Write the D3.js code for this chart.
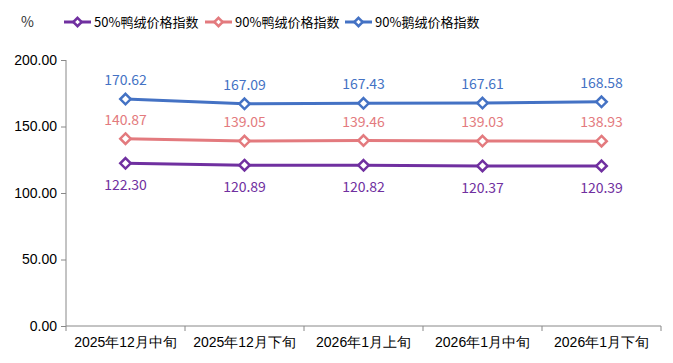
<!DOCTYPE html>
<html>
<head>
<meta charset="utf-8">
<script src="https://cdn.jsdelivr.net/npm/d3@7"></script>
<style>
  body { margin: 0; background: #fff; }
  svg { font-family: "Noto Sans CJK SC", "DejaVu Sans", sans-serif; }
</style>
</head>
<body>
<div id="chart"></div>
<script>
// categories and series
const periods = [ '2025年12月中旬', '2025年12月下旬', '2026年1月上旬', '2026年1月中旬', '2026年1月下旬' ];
const seriesNames = [ '50%鸭绒价格指数', '90%鸭绒价格指数', '90%鹅绒价格指数' ];
const duck50 = [ 122.30, 120.89, 120.82, 120.37, 120.39 ];
const duck90 = [ 140.87, 139.05, 139.46, 139.03, 138.93 ];
const goose90 = [ 170.62, 167.09, 167.43, 167.61, 168.58 ];
const yTicks = [ 0, 50, 100, 150, 200 ];

//_____ LAYOUT _____
const width = 673;
const height = 363;
const margin = { top: 60, right: 12, bottom: 37, left: 66 };
const colors = [ '#7030a0', '#e37a7e', '#4472c4' ];
const labelPos = [ 'below', 'above', 'above' ];
const allSeries = [ duck50, duck90, goose90 ];

const svg = d3.select( '#chart' ).append( 'svg' )
  .attr( 'width', width )
  .attr( 'height', height );

const x = d3.scaleBand()
  .domain( periods )
  .range( [ margin.left, width - margin.right ] );

const y = d3.scaleLinear()
  .domain( [ 0, 200 ] )
  .range( [ height - margin.bottom, margin.top ] );

//_____ AXES _____
const yAxis = svg.append( 'g' )
  .attr( 'transform', `translate(${margin.left},0)` )
  .call( d3.axisLeft( y ).tickValues( yTicks ).tickFormat( d3.format( '.2f' ) ).tickSize( 5 ).tickPadding( 4 ) );
yAxis.select( '.domain' ).attr( 'stroke', '#888' ).attr( 'd', `M0,${y( 0 )}V${y( 200 )}` );
yAxis.selectAll( '.tick line' ).attr( 'stroke', '#888' );
yAxis.selectAll( 'text' ).style( 'font-size', '14px' ).attr( 'fill', '#000' );

const xAxis = svg.append( 'g' )
  .attr( 'transform', `translate(0,${y( 0 )})` )
  .call( d3.axisBottom( x ).tickSize( 0 ).tickPadding( 11 ) );
xAxis.select( '.domain' ).attr( 'stroke', '#888' ).attr( 'd', `M${margin.left},0H${width - margin.right}` );
xAxis.selectAll( 'text' ).style( 'font-size', '14px' ).attr( 'fill', '#000' );

//>>> boundary ticks between bands
const bounds = periods.map( p => x( p ) ).concat( [ width - margin.right ] );
svg.append( 'g' ).selectAll( 'line' )
  .data( bounds )
  .enter()
  .append( 'line' )
  .attr( 'x1', d => d ).attr( 'x2', d => d )
  .attr( 'y1', y( 0 ) ).attr( 'y2', y( 0 ) + 5 )
  .attr( 'stroke', '#888' );

//_____ LINES, MARKERS, LABELS _____
const cx = p => x( p ) + x.bandwidth() / 2;
const line = d3.line()
  .x( ( d, i ) => cx( periods[ i ] ) )
  .y( d => y( d ) );
const diamond = d3.symbol().type( d3.symbolDiamond2 ).size( 70 );

allSeries.forEach( ( values, s ) => {
  const g = svg.append( 'g' );
  g.append( 'path' )
    .datum( values )
    .attr( 'd', line )
    .attr( 'fill', 'none' )
    .attr( 'stroke', colors[ s ] )
    .attr( 'stroke-width', 3 );

  g.selectAll( '.marker' )
    .data( values )
    .enter()
    .append( 'path' )
    .attr( 'class', 'marker' )
    .attr( 'd', diamond )
    .attr( 'transform', ( d, i ) => `translate(${cx( periods[ i ] )},${y( d )})` )
    .attr( 'fill', '#fff' )
    .attr( 'stroke', colors[ s ] )
    .attr( 'stroke-width', 2.5 );

  g.selectAll( '.lbl' )
    .data( values )
    .enter()
    .append( 'text' )
    .attr( 'class', 'lbl' )
    .attr( 'x', ( d, i ) => cx( periods[ i ] ) )
    .attr( 'y', d => labelPos[ s ] === 'above' ? y( d ) - 14 : y( d ) + 27 )
    .attr( 'text-anchor', 'middle' )
    .attr( 'fill', colors[ s ] )
    .style( 'font-size', '14px' )
    .text( d => d.toFixed( 2 ) );
} );

//_____ UNIT AND LEGEND _____
svg.append( 'text' )
  .attr( 'x', 21 ).attr( 'y', 27 )
  .style( 'font-size', '14px' )
  .attr( 'fill', '#333' )
  .text( '%' );

const legendX = [ 64, 205, 345 ];
const legend = svg.append( 'g' ).selectAll( 'g' )
  .data( seriesNames )
  .enter()
  .append( 'g' )
  .attr( 'transform', ( d, i ) => `translate(${legendX[ i ]},22)` );

legend.append( 'line' )
  .attr( 'x1', 0 ).attr( 'x2', 27 )
  .attr( 'stroke', ( d, i ) => colors[ i ] )
  .attr( 'stroke-width', 3 );
legend.append( 'path' )
  .attr( 'd', d3.symbol().type( d3.symbolDiamond2 ).size( 45 ) )
  .attr( 'transform', 'translate(13.5,0)' )
  .attr( 'fill', '#fff' )
  .attr( 'stroke', ( d, i ) => colors[ i ] )
  .attr( 'stroke-width', 2.5 );
legend.append( 'text' )
  .attr( 'x', 30 ).attr( 'y', 5 )
  .style( 'font-size', '13px' )
  .attr( 'fill', '#000' )
  .text( d => d );
</script>
</body>
</html>
